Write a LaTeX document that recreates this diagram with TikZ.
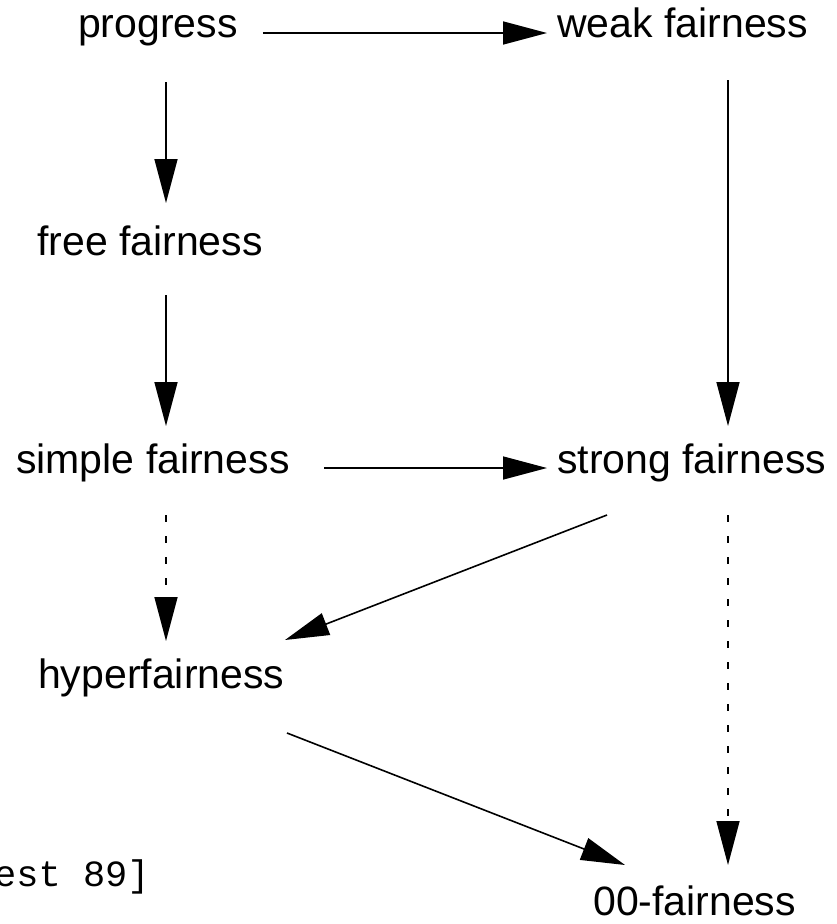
\documentclass[tikz,border=0pt]{standalone}
\usepackage{fontspec}
\setmainfont{Liberation Sans}
\newfontfamily\citefont{Liberation Mono}
\usetikzlibrary{arrows.meta,calc}
\begin{document}
\begin{tikzpicture}[x=1pt,y=-1pt,
  term/.style={anchor=base west,inner sep=0pt,font=\fontsize{41}{49}\selectfont},
  arr/.style={-{Triangle[length=44pt,width=23pt]},line width=1.6pt},
  dotted arr/.style={arr,dash pattern=on 7pt off 14pt}]
\useasboundingbox (0,0) rectangle (836,924);

% notions of fairness
\node[term] (prog)   at (78,37)   {progress};
\node[term] (weak)   at (557,37)  {weak fairness};
\node[term] (free)   at (37,255)  {free fairness};
\node[term] (simple) at (16,473)  {simple fairness};
\node[term] (strong) at (557,473) {strong fairness};
\node[term] (hyper)  at (38,688)  {hyperfairness};
\node[term] (zero)   at (593,915) {00-fairness};
\node[anchor=base west,inner sep=0pt,font=\citefont\fontsize{37}{44}\selectfont]
  (cite) at (-6,886) {est 89]};

% implications
\draw[arr] ($(prog.base east)+(25,-4)$) -- ($(weak.base west)+(-10,-4)$);
\draw[arr] ($(prog.base west)+(88,45)$) -- ($(free.base west)+(129,-52)$);
\draw[arr] ($(free.base west)+(129,40)$) -- ($(simple.base west)+(150,-47)$);
\draw[arr] ($(weak.base west)+(171,43)$) -- ($(strong.base west)+(171,-47)$);
\draw[arr] ($(simple.base west)+(308,-5)$) -- ($(strong.base west)+(-10,-5)$);
\draw[dotted arr] ($(simple.base west)+(150,42)$) -- ($(hyper.base west)+(128,-47)$);
\draw[arr] ($(strong.base west)+(50,42)$) -- ($(hyper.base west)+(247,-48)$);
\draw[dotted arr] ($(strong.base west)+(171,42)$) -- ($(zero.base west)+(135,-50)$);
\draw[arr] ($(hyper.base west)+(249,45)$) -- ($(zero.base west)+(32,-50)$);
\end{tikzpicture}
\end{document}
